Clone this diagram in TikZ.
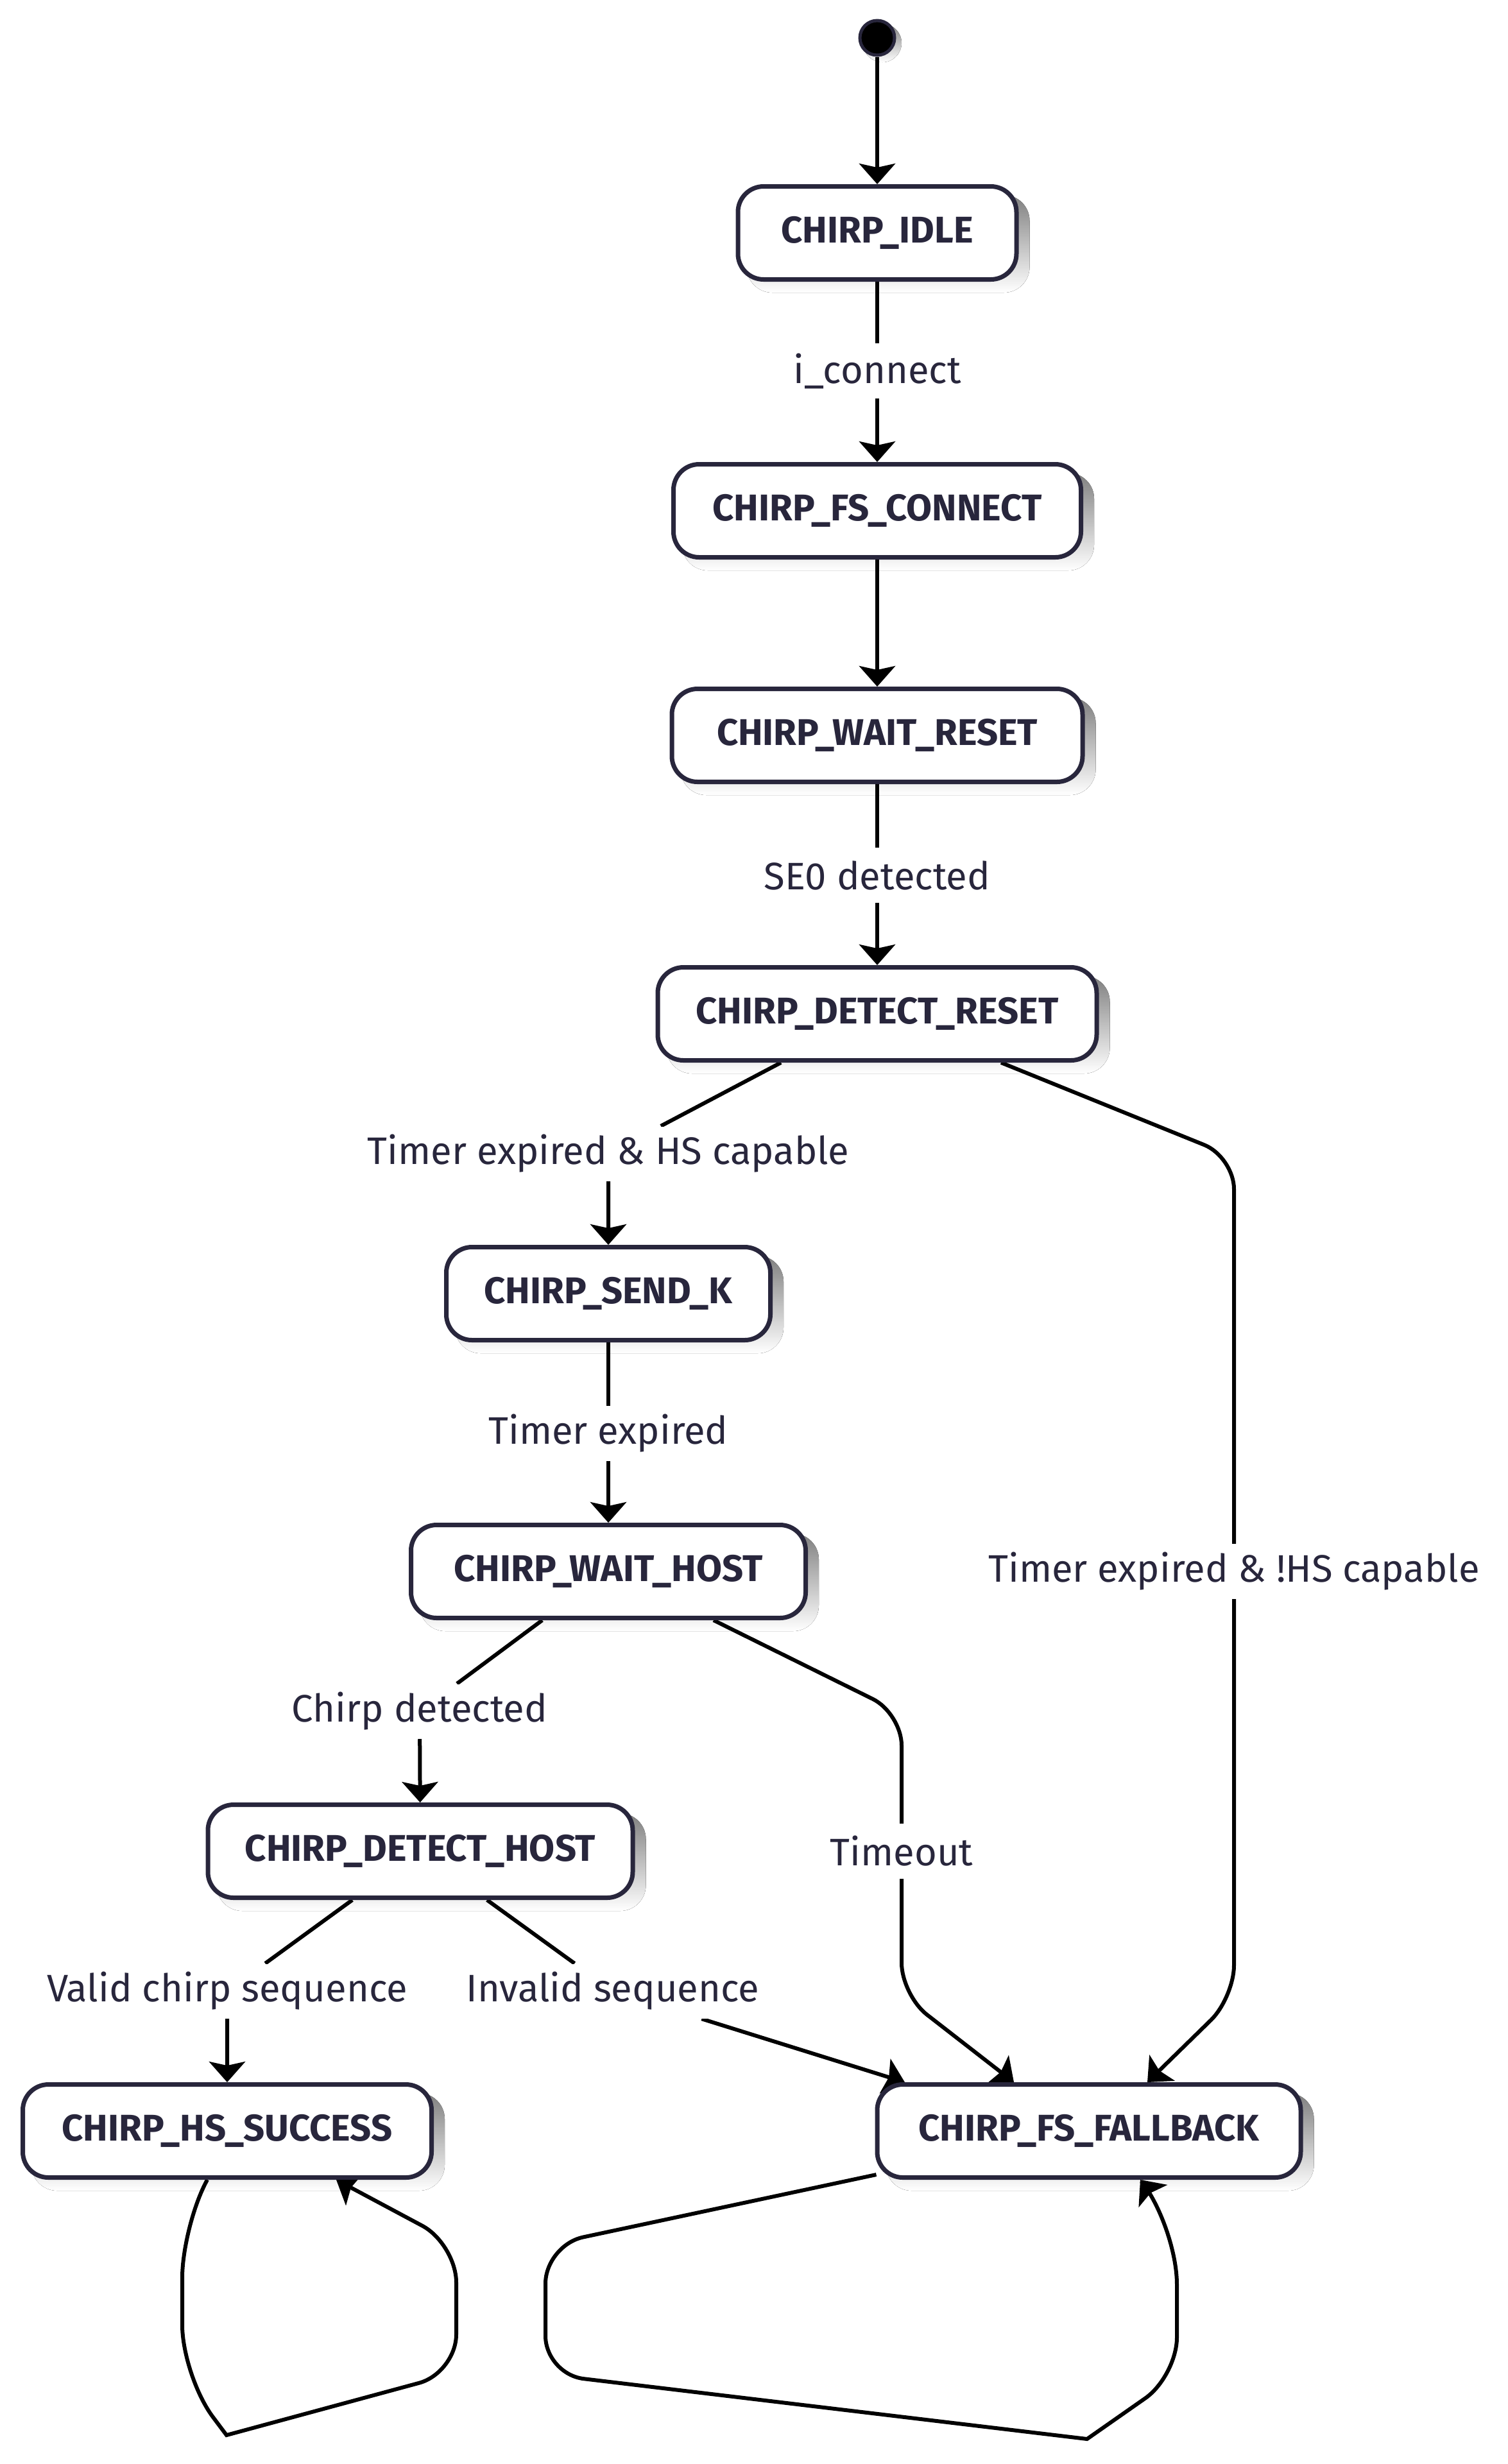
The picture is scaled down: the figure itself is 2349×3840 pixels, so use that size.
\documentclass[tikz,border=0pt]{standalone}
\usepackage{fontspec}
\setmainfont{Fira Sans}
\usetikzlibrary{arrows.meta,calc}
\pgfdeclarelayer{shadowlayer}
\pgfdeclarelayer{edgelayer}
\pgfsetlayers{shadowlayer,edgelayer,main}
\definecolor{ink}{HTML}{28263C}
\definecolor{shade}{HTML}{EFEFEF}
\tikzset{
  state/.style={draw=ink, line width=0.7mm, fill=white, rounded corners=4mm,
    minimum height=14.5mm, inner sep=0pt, text=ink,
    font=\bfseries\fontsize{16.5}{19}\selectfont},
  lbl/.style={fill=white, text=ink, inner xsep=0.8mm, inner ysep=0pt,
    minimum height=8.5mm, font=\fontsize{17}{20}\selectfont},
  edge/.style={draw=black, line width=0.6mm, rounded corners=5mm,
    -{Stealth[length=3.2mm,width=5.6mm,inset=0.6mm]}},
}
\begin{document}
\begin{tikzpicture}[x=0.1mm,y=-0.1mm]
\useasboundingbox (0,0) rectangle (2349,3840);
% states
\node[circle, fill=black, draw=ink, line width=0.5mm, minimum size=5.4mm, inner sep=0pt] (start) at (1367,59) {};
\node[state, minimum width=43.4mm] (idle) at (1367,363) {CHIRP\_IDLE};
\node[state, minimum width=63.5mm] (fsc) at (1367,796) {CHIRP\_FS\_CONNECT};
\node[state, minimum width=64.0mm] (wr) at (1367,1146) {CHIRP\_WAIT\_RESET};
\node[state, minimum width=68.4mm] (dr) at (1367,1580) {CHIRP\_DETECT\_RESET};
\node[state, minimum width=50.5mm] (sendk) at (948,2016) {CHIRP\_SEND\_K};
\node[state, minimum width=61.5mm] (wh) at (948,2449) {CHIRP\_WAIT\_HOST};
\node[state, minimum width=66.2mm] (dh) at (655,2885) {CHIRP\_DETECT\_HOST};
\node[state, minimum width=63.7mm] (hs) at (354,3321) {CHIRP\_HS\_SUCCESS};
\node[state, minimum width=66.0mm] (ff) at (1697,3321) {CHIRP\_FS\_FALLBACK};
% labels
\node[lbl] (l1) at (1367,578) {i\_connect};
\node[lbl] (l2) at (1367,1364) {SE0 detected};
\node[lbl] (l3) at (948,1798) {Timer expired \& HS capable};
\node[lbl] (l4) at (948,2234) {Timer expired};
\node[lbl] (l5) at (1923,2449) {Timer expired \& !HS capable};
\node[lbl] (l6) at (654,2667) {Chirp detected};
\node[lbl] (l7) at (1405,2885) {Timeout};
\node[lbl] (l8) at (354,3103) {Valid chirp sequence};
\node[lbl] (l9) at (955,3103) {Invalid sequence};
% shadows
\begin{pgfonlayer}{shadowlayer}
\foreach \n in {idle,fsc,wr,dr,sendk,wh,dh,hs,ff}{
  \fill[shade, rounded corners=4mm] ($(\n.south west)+(17,17)$) rectangle ($(\n.north east)+(17,17)$);
}
\fill[shade] ($(start.center)+(8,8)$) circle (3mm);
\end{pgfonlayer}
% edges
\begin{pgfonlayer}{edgelayer}
\draw[edge] (start) -- (idle);
\draw[edge] (idle) -- (l1) -- (fsc);
\draw[edge] (fsc) -- (wr);
\draw[edge] (wr) -- (l2) -- (dr);
\draw[edge] ($(dr.south)+(-150,0)$) -- (l3) -- (sendk);
\draw[edge] (sendk) -- (l4) -- (wh);
\draw[edge] ($(dr.south)+(193,0)$) -- (1923,1803) -- (l5) -- (1923,3113) -- ($(ff.north)+(91,0)$);
\draw[edge] ($(wh.south)+(-103,0)$) -- (l6) -- (dh);
\draw[edge] ($(wh.south)+(164,0)$) -- (1405,2670) -- (l7) -- (1405,3109) -- ($(ff.north)+(-117,0)$);
\draw[edge] ($(dh.south)+(-106,0)$) -- (l8) -- (hs);
\draw[edge] ($(dh.south)+(104,0)$) -- (l9) -- ($(ff.north)+(-287,0)$);
\draw[edge, rounded corners=8mm] ($(hs.south)+(-31,0)$) -- (284,3470) -- (284,3703) [sharp corners] -- (353,3795) [rounded corners=6mm] -- (711,3698) -- (711,3497) -- ($(hs.south)+(170,0)$);
\draw[edge, rounded corners=6mm] ($(ff.south west)+(2,-8)$) -- (850,3499) -- (850,3700) [sharp corners] -- (1694,3801) [rounded corners=6mm] -- (1834,3703) [rounded corners=9mm] -- (1834,3470) -- ($(ff.south)+(80,0)$);
\end{pgfonlayer}
\end{tikzpicture}
\end{document}
